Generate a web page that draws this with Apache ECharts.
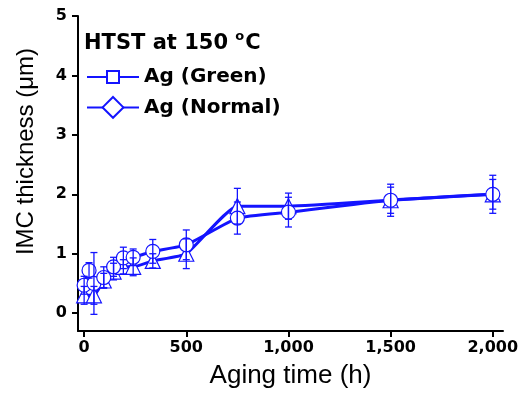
<!DOCTYPE html>
<html><head><meta charset="utf-8">
<script src="https://cdn.jsdelivr.net/npm/echarts@6/dist/echarts.min.js"></script>
<style>html,body{margin:0;padding:0;background:#fff}#c{width:527px;height:398px}</style>
</head><body><div id="c"></div>
<script>
const hoursGreen = [0, 24, 48, 96, 144, 192, 240, 336, 500, 750, 1000, 1500, 2000];
const greenVals  = [0.47, 0.72, 0.50, 0.60, 0.78, 0.93, 0.94, 1.04, 1.15, 1.60, 1.70, 1.90, 2.00];
const greenErr   = [0.15, 0.13, 0.52, 0.18, 0.16, 0.18, 0.14, 0.20, 0.25, 0.27, 0.25, 0.27, 0.32];
const hoursNormal = [0, 48, 96, 144, 192, 240, 336, 500, 750, 1000, 1500, 2000];
const normalVals  = [0.30, 0.30, 0.55, 0.70, 0.78, 0.78, 0.88, 1.00, 1.80, 1.80, 1.90, 2.00];
const normalErr   = [0.15, 0.15, 0.12, 0.14, 0.12, 0.15, 0.12, 0.25, 0.30, 0.22, 0.22, 0.25];
const yTicks = [0, 1, 2, 3, 4, 5];
const xTicks = [0, 500, 1000, 1500, 2000];
const seriesNames = ['Ag (Green)', 'Ag (Normal)'];

const BLUE = '#1414ff';
const font = 'Liberation Sans, Arial, sans-serif';
const bold = 'DejaVu Sans, sans-serif';

function errData(h, v, e) { return h.map((x, i) => [x, v[i] - e[i], v[i] + e[i]]); }
function errRender(params, api) {
  const x = api.value(0);
  const lo = api.coord([x, api.value(1)]);
  const hi = api.coord([x, api.value(2)]);
  const w = 3.5;
  const st = { stroke: BLUE, lineWidth: 1.3 };
  return { type: 'group', children: [
    { type: 'line', shape: { x1: lo[0], y1: lo[1], x2: hi[0], y2: hi[1] }, style: st },
    { type: 'line', shape: { x1: lo[0] - w, y1: lo[1], x2: lo[0] + w, y2: lo[1] }, style: st },
    { type: 'line', shape: { x1: hi[0] - w, y1: hi[1], x2: hi[0] + w, y2: hi[1] }, style: st }
  ]};
}
const legendText = { fontFamily: bold, fontWeight: 'bold', fontSize: 20, color: '#000' };

const chart = echarts.init(document.getElementById('c'), null, { renderer: 'canvas' });
chart.setOption({
  animation: false,
  title: {
    text: 'HTST at 150 {sup|o}C', left: 84, top: 30, padding: 0,
    textStyle: { fontFamily: bold, fontWeight: 'bold', fontSize: 21, color: '#000',
      rich: { sup: { fontFamily: bold, fontWeight: 'bold', fontSize: 13, color: '#000', verticalAlign: 'top', padding: [0, 1, 14, 0] } } }
  },
  legend: [
    { orient: 'vertical', left: 86, top: 67, itemWidth: 52, itemHeight: 15, padding: 0,
      textStyle: legendText, data: [seriesNames[0]] },
    { orient: 'vertical', left: 86, top: 96, itemWidth: 52, itemHeight: 26, padding: 0,
      textStyle: legendText, data: [seriesNames[1]] }
  ],
  grid: { left: 78, right: 24, top: 16, bottom: 67 },
  xAxis: {
    type: 'value', min: -30, max: 2050,
    name: 'Aging time (h)', nameLocation: 'middle', nameGap: 32,
    nameTextStyle: { fontFamily: font, fontSize: 26, color: '#000' },
    axisLine: { onZero: false, lineStyle: { color: '#000', width: 2 } },
    axisTick: { show: true, customValues: xTicks, length: 6, lineStyle: { color: '#000', width: 2 } },
    axisLabel: { customValues: xTicks, fontFamily: bold, fontWeight: 'bold', fontSize: 16, color: '#000', margin: 9,
      formatter: v => v.toLocaleString('en-US') },
    splitLine: { show: false }
  },
  yAxis: {
    type: 'value', min: -0.3, max: 5,
    name: 'IMC thickness (\u03bcm)', nameLocation: 'middle', nameGap: 40,
    nameTextStyle: { fontFamily: font, fontSize: 24, color: '#000', padding: [0, 0, 0, 44] },
    axisLine: { show: true, onZero: false, lineStyle: { color: '#000', width: 2 } },
    axisTick: { show: true, customValues: yTicks, length: 6, lineStyle: { color: '#000', width: 2 } },
    axisLabel: { customValues: yTicks, fontFamily: bold, fontWeight: 'bold', fontSize: 16, color: '#000', margin: 11 },
    splitLine: { show: false }
  },
  series: [
    {
      name: seriesNames[0], type: 'line', smooth: 0.15,
      symbol: 'rect', symbolSize: 13,
      data: hoursGreen.map((h, i) => ({ value: [h, greenVals[i]], symbol: 'circle', symbolSize: 14 })),
      lineStyle: { color: BLUE, width: 3 },
      itemStyle: { color: '#fff', borderColor: BLUE, borderWidth: 1.2 },
      z: 3
    },
    {
      name: seriesNames[1], type: 'line', smooth: 0.15,
      symbol: 'diamond', symbolSize: 15,
      data: hoursNormal.map((h, i) => ({ value: [h, normalVals[i]], symbol: 'triangle', symbolSize: 15 })),
      lineStyle: { color: BLUE, width: 3 },
      itemStyle: { color: '#fff', borderColor: BLUE, borderWidth: 1.2 },
      z: 2
    },
    { type: 'custom', renderItem: errRender, data: errData(hoursGreen, greenVals, greenErr), z: 5, silent: true },
    { type: 'custom', renderItem: errRender, data: errData(hoursNormal, normalVals, normalErr), z: 5, silent: true }
  ]
});
</script></body></html>
